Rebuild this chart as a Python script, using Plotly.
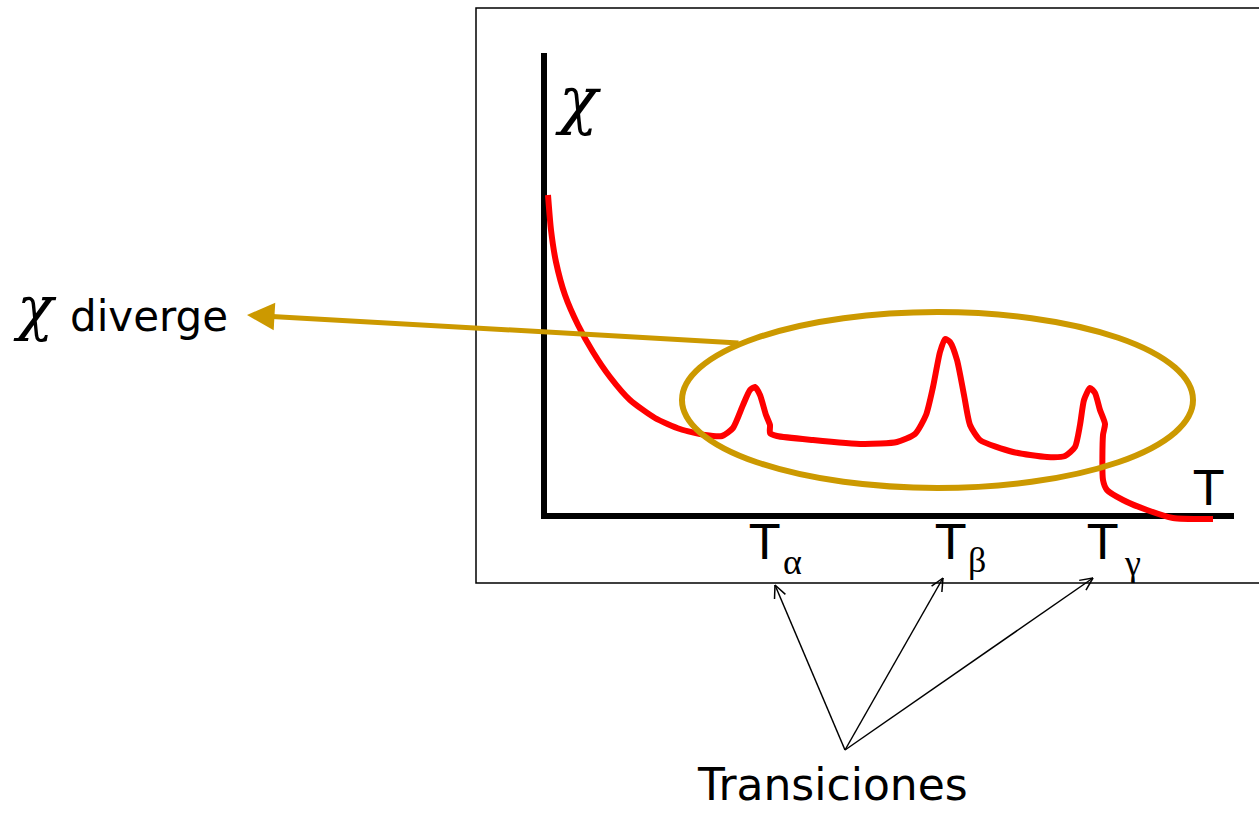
import math
import plotly.graph_objects as go

# Susceptibility curve chi(T), axes origin at (0, 0)
T_curve = [4, 7, 12, 21, 34, 49, 66, 86, 111, 136, 161, 178, 189, 199, 206, 211, 216, 222, 226,
           226, 233, 269, 319, 353, 371, 382, 389, 396, 401, 406, 413, 420, 426, 436, 469, 503,
           521, 531, 536, 540, 546, 551, 556, 561, 559, 559, 563, 579, 603, 629, 669]
chi_curve = [321, 286, 254, 221, 191, 164, 139, 116, 98, 87, 81, 80, 88, 111, 126, 129, 121, 101, 91,
             83, 80, 76, 72, 74, 82, 101, 129, 164, 177, 174, 156, 121, 91, 76, 64, 59,
             60, 69, 91, 116, 128, 123, 106, 92, 81, 36, 26, 16, 6, -2, -3]

# Transition temperatures and their labels
T_trans = [231, 399, 549]
trans_T_label = [220, 406, 558]
trans_greek = ["α", "β", "γ"]
trans_greek_x = [248, 433, 588]
trans_greek_y = [-46, -44, -47]

GOLD = "#CC9900"
SANS = "DejaVu Sans"
SERIF = "Liberation Serif"
CHI_FONT = "DejaVu Serif"

fig = go.Figure()

# axes drawn as thick black strokes
fig.add_trace(go.Scatter(x=[0, 0], y=[463, -3], mode="lines",
                         line=dict(color="black", width=6), hoverinfo="skip"))
fig.add_trace(go.Scatter(x=[-3, 690], y=[0, 0], mode="lines",
                         line=dict(color="black", width=6), hoverinfo="skip"))

# chi(T) curve
fig.add_trace(go.Scatter(x=T_curve, y=chi_curve, mode="lines",
                         line=dict(color="#FF0000", width=6, shape="spline", smoothing=0.6),
                         hoverinfo="skip"))

# frame around the diagram
fig.add_shape(type="rect", x0=-68, x1=720, y0=-67, y1=508,
              line=dict(color="black", width=1.5), layer="below")

# ellipse around the peaks
fig.add_shape(type="circle", x0=138, x1=649, y0=28, y1=204,
              line=dict(color=GOLD, width=6))

# gold arrow pointing to the "χ diverge" label
fig.add_annotation(x=-297, y=201, ax=196, ay=173, xref="x", yref="y", axref="x", ayref="y",
                   showarrow=True, arrowhead=2, arrowsize=1.1, arrowwidth=5, arrowcolor=GOLD,
                   text="")

# thin black arrows from "Transiciones" to each transition temperature
src = (301, -234)
tips = [(231, -69), (399, -62), (549, -62)]
for tx, ty in tips:
    fig.add_trace(go.Scatter(x=[src[0], tx], y=[src[1], ty], mode="lines",
                             line=dict(color="black", width=1.5), hoverinfo="skip"))
    ang = math.atan2(ty - src[1], tx - src[0])
    hl = 14
    hx, hy = [], []
    for d in (math.radians(25), -math.radians(25)):
        hx += [tx - hl * math.cos(ang + d), tx, None]
        hy += [ty - hl * math.sin(ang + d), ty, None]
    fig.add_trace(go.Scatter(x=hx, y=hy, mode="lines",
                             line=dict(color="black", width=1.5), hoverinfo="skip"))

# labels
fig.add_annotation(x=34, y=416, text="χ", showarrow=False,
                   font=dict(family=CHI_FONT, size=64, style="italic", color="black"))
fig.add_annotation(x=664, y=28, text="T", showarrow=False,
                   font=dict(family=SANS, size=48, color="black"))
for tl, g, gx, gy in zip(trans_T_label, trans_greek, trans_greek_x, trans_greek_y):
    fig.add_annotation(x=tl, y=-26, text="T", showarrow=False,
                       font=dict(family=SANS, size=48, color="black"))
    fig.add_annotation(x=gx, y=gy, text=g, showarrow=False,
                       font=dict(family=SERIF, size=36, color="black"))
fig.add_annotation(x=288, y=-268, text="Transiciones", showarrow=False,
                   font=dict(family=SANS, size=44, color="black"))
fig.add_annotation(x=-509, y=208, text="χ", showarrow=False,
                   font=dict(family=CHI_FONT, size=60, style="italic", color="black"))
fig.add_annotation(x=-395, y=200, text="diverge", showarrow=False,
                   font=dict(family=SANS, size=42, color="black"))

fig.update_layout(
    width=1259, height=813,
    margin=dict(l=0, r=0, t=0, b=0),
    paper_bgcolor="white", plot_bgcolor="white",
    showlegend=False,
    xaxis=dict(range=[-544, 715], visible=False, fixedrange=True),
    yaxis=dict(range=[-297, 516], visible=False, fixedrange=True),
)

fig.write_html("out.html")
